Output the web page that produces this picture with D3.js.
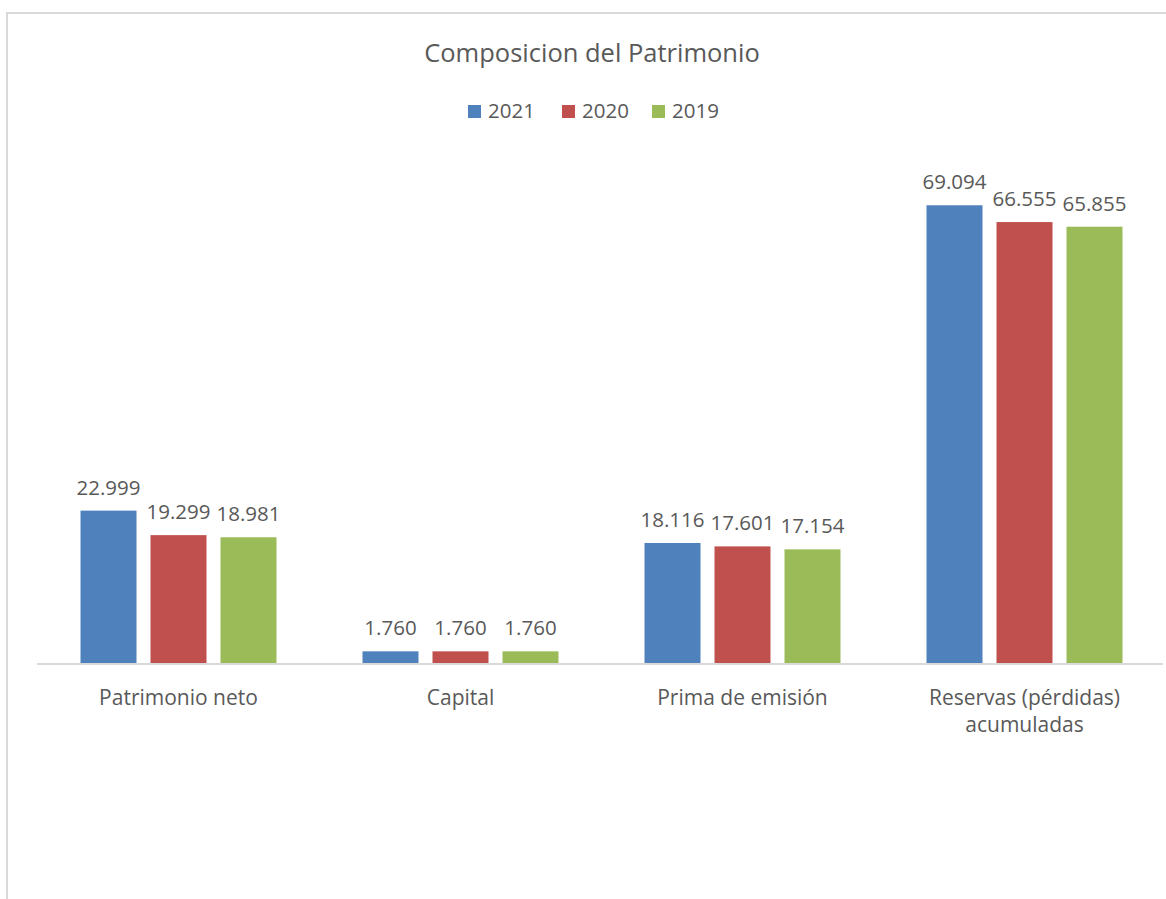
<!DOCTYPE html>
<html>
<head>
<meta charset="utf-8">
<script src="https://cdn.jsdelivr.net/npm/d3@7"></script>
<style>
body { margin: 0; background: #fff; }
text { font-family: "Open Sans", Roboto, sans-serif; fill: #595959; }
</style>
</head>
<body>
<svg id="chart"></svg>
<script>
var width = 1166, height = 899

// data
var categories = ["Patrimonio neto", "Capital", "Prima de emisión", "Reservas (pérdidas) acumuladas"]
var years = ["2021", "2020", "2019"]
var values2021 = [22.999, 1.760, 18.116, 69.094]
var values2020 = [19.299, 1.760, 17.601, 66.555]
var values2019 = [18.981, 1.760, 17.154, 65.855]
var colors = ["#4f81bd", "#c0504d", "#9bbb59"]

var series = [values2021, values2020, values2019]

var svg = d3.select("#chart")
    .attr("width", width)
    .attr("height", height)

// chart frame
svg.append("rect")
    .attr("x", 7).attr("y", 13)
    .attr("width", 1200).attr("height", 1000)
    .attr("fill", "#fff")
    .attr("stroke", "#d9d9d9")
    .attr("stroke-width", 2)

var x = d3.scaleBand()
    .domain(categories)
    .range([37.5, 1165.5])

var x1 = d3.scaleBand()
    .domain(years)
    .range([43, 239])
    .paddingInner(0.2)

var y = d3.scaleLinear()
    .domain([0, 80])
    .range([663, 133])

var fmt = function(v) { return v.toFixed(3) }

var groups = svg.selectAll("g.cat")
    .data(categories)
    .enter()
    .append("g")
        .attr("class", "cat")
        .attr("transform", d => "translate(" + x(d) + ",0)")

years.forEach(function(yr, i) {
    groups.append("rect")
        .attr("x", x1(yr))
        .attr("width", x1.bandwidth())
        .attr("y", (d, j) => y(series[i][j]))
        .attr("height", (d, j) => y(0) - y(series[i][j]))
        .attr("fill", colors[i])
    groups.append("text")
        .attr("x", x1(yr) + x1.bandwidth() / 2)
        .attr("y", (d, j) => y(series[i][j]) - 16)
        .attr("text-anchor", "middle")
        .style("font-size", "20.5px")
        .text((d, j) => fmt(series[i][j]))
})

// axis line
svg.append("line")
    .attr("x1", 37).attr("x2", 1163)
    .attr("y1", 664).attr("y2", 664)
    .attr("stroke", "#d9d9d9")
    .attr("stroke-width", 2)

// category labels (wrapped like the original)
var catLines = {
    "Reservas (pérdidas) acumuladas": ["Reservas (pérdidas)", "acumuladas"]
}
groups.append("text")
    .attr("text-anchor", "middle")
    .style("font-size", "21px")
    .each(function(d) {
        var lines = catLines[d] || [d]
        var t = d3.select(this)
        lines.forEach(function(l, k) {
            t.append("tspan")
                .attr("x", x.bandwidth() / 2)
                .attr("y", 705 + k * 27)
                .text(l)
        })
    })

// title
svg.append("text")
    .attr("x", 592)
    .attr("y", 62)
    .attr("text-anchor", "middle")
    .style("font-size", "25.5px")
    .text("Composicion del Patrimonio")

// legend
var legend = svg.append("g")
    .selectAll("g")
    .data(years)
    .enter()
    .append("g")
        .attr("transform", (d, i) => "translate(" + [468, 562, 652][i] + ",0)")
legend.append("rect")
    .attr("x", 0).attr("y", 105)
    .attr("width", 13).attr("height", 13)
    .attr("fill", (d, i) => colors[i])
legend.append("text")
    .attr("x", 20).attr("y", 118)
    .style("font-size", "20.5px")
    .text(d => d)
</script>
</body>
</html>
